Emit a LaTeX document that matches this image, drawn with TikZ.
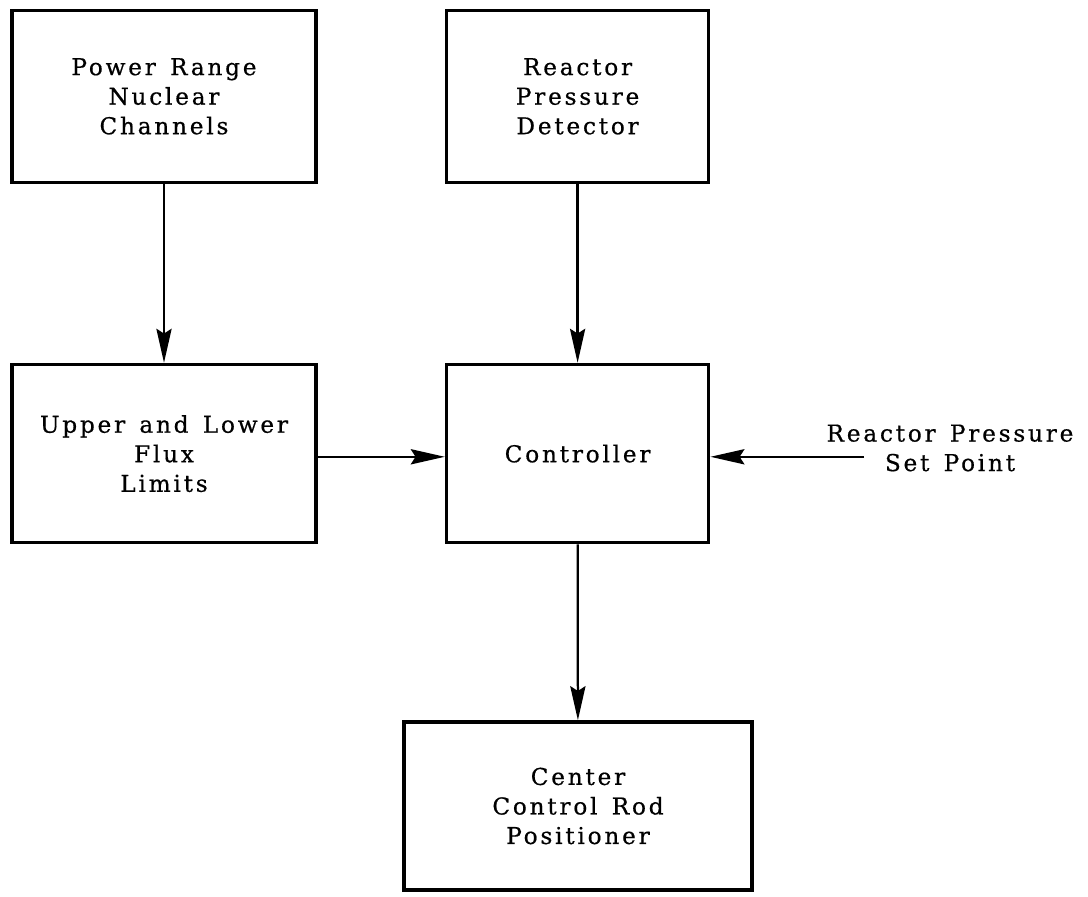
\documentclass[tikz,border=0pt]{standalone}
\usepackage{fontspec}
\setmainfont{DejaVu Serif}[LetterSpace=12, WordSpace=1.4, FakeBold=0.6]
\usetikzlibrary{arrows.meta}

\begin{document}
\begin{tikzpicture}[
    block/.style={draw, line width=2.6pt, align=center, inner sep=0pt, font=\fontsize{16.5}{21}\selectfont},
    flow/.style={line width=1.6pt, -{Stealth[length=0.85cm, width=0.38cm, inset=0.12cm]}}
  ]
  \useasboundingbox (0,0) rectangle (27.2cm,22.4cm);
  % top row
  \node[block, minimum width=7.6cm, minimum height=4.3cm] (nuclear) at (4.1cm,19.99cm) {Power Range\\Nuclear\\Channels};
  \node[block, minimum width=6.55cm, minimum height=4.3cm] (detector) at (14.44cm,19.99cm) {Reactor\\Pressure\\Detector};
  % middle row
  \node[block, minimum width=7.6cm, minimum height=4.45cm] (limits) at (4.1cm,11.06cm) {Upper and Lower\\Flux\\Limits};
  \node[block, minimum width=6.55cm, minimum height=4.45cm] (controller) at (14.44cm,11.06cm) {Controller};
  \node[align=center, font=\fontsize{16.5}{21}\selectfont] (setpoint) at (23.75cm,11.2cm) {Reactor Pressure\\Set Point};
  \coordinate (setin) at (21.6cm,10.98cm);
  % bottom row
  \node[block, minimum width=8.7cm, minimum height=4.2cm] (positioner) at (14.45cm,2.25cm) {Center\\Control Rod\\Positioner};
  % connectors
  \draw[flow] (nuclear) -- (limits);
  \draw[flow] (detector) -- (controller);
  \draw[flow] (limits.east |- setin) -- (controller.west |- setin);
  \draw[flow] (setin) -- (controller.east |- setin);
  \draw[flow] (controller) -- (positioner);
\end{tikzpicture}
\end{document}
